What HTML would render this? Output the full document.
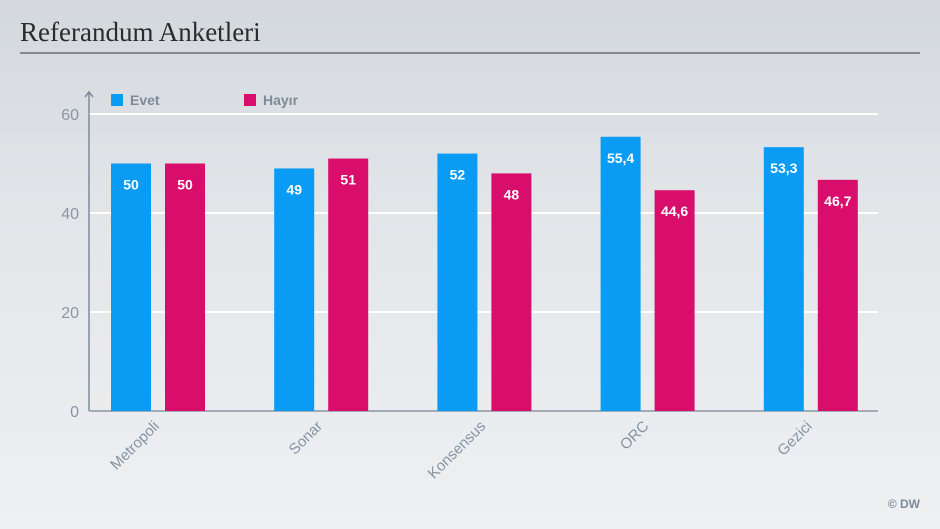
<!DOCTYPE html>
<html><head><meta charset="utf-8"><style>
html,body{margin:0;padding:0;width:940px;height:529px;overflow:hidden}
body{background:linear-gradient(180deg,#d3d8dd 0%,#e4e7ea 45%,#eef0f2 100%);font-family:"Liberation Sans",sans-serif}
</style></head><body>
<svg id="chart" width="940" height="529" xmlns="http://www.w3.org/2000/svg">
<text x="20" y="41" font-family="Liberation Serif, serif" font-size="27" fill="#2b2b2b">Referandum Anketleri</text>
<line x1="20" y1="53" x2="920" y2="53" stroke="#333" stroke-width="1"/>
<g id="grid"></g>
<g id="bars"></g>
<g id="legend">
<rect x="111" y="94" width="12" height="12" fill="#0a9bf5"/>
<text x="130" y="105" font-size="14" font-weight="bold" fill="#7d8b99">Evet</text>
<rect x="244" y="94" width="12" height="12" fill="#d90d6b"/>
<text x="263" y="105" font-size="14" font-weight="bold" fill="#7d8b99">Hayır</text>
</g>
<text x="920" y="508" text-anchor="end" font-size="12" font-weight="bold" fill="#7d8b99">© DW</text>
</svg>
<script>
const categories=["Metropoli","Sonar","Konsensus","ORC","Gezici"];
const evet=[50,49,52,55.4,53.3];
const hayir=[50,51,48,44.6,46.7];
const evetLabels=["50","49","52","55,4","53,3"];
const hayirLabels=["50","51","48","44,6","46,7"];
const ticks=[0,20,40,60];
const NS="http://www.w3.org/2000/svg";
const x0=89,x1=878,yBase=411,yTop=114,yMax=60;
const y=v=>yBase-(v/yMax)*(yBase-yTop);
const groupW=163.2,firstC=158;
const cx=i=>firstC+i*groupW;
function mk(t,a,p){const e=document.createElementNS(NS,t);for(const k in a)e.setAttribute(k,a[k]);p.appendChild(e);return e;}
const grid=document.getElementById('grid'),bars=document.getElementById('bars');
ticks.forEach(t=>{
  if(t>0){const l=mk('line',{x1:x0,x2:x1,y1:y(t),y2:y(t),stroke:'#ffffff','stroke-width':2},grid);
  
  }
  const tx=mk('text',{x:x0-10,y:y(t)+6,'text-anchor':'end','font-size':16,fill:'#8a96a3'},grid);
  tx.textContent=t;
  
  
});
const ax=mk('path',{d:`M${x0} ${yBase}V${yTop-22}M${x0-4} ${yTop-17}L${x0} ${yTop-22}L${x0+4} ${yTop-17}`,stroke:'#7d8b99','stroke-width':1.5,fill:'none'},grid);


const bx=mk('line',{x1:x0,x2:x1,y1:yBase,y2:yBase,stroke:'#8a96a3','stroke-width':1.5},grid);


const bw=40;
categories.forEach((c,i)=>{
  [[evet,evetLabels,'#0a9bf5',-47,'evet'],[hayir,hayirLabels,'#d90d6b',7,'hayir']].forEach(([arr,lab,col,off,nm])=>{
    const bx0=cx(i)+off;
    const r=mk('rect',{x:bx0,y:y(arr[i]),width:bw,height:yBase-y(arr[i]),fill:col},bars);
    
    
    const t=mk('text',{x:bx0+bw/2,y:y(arr[i])+26,'text-anchor':'middle','font-size':14,'font-weight':'bold',fill:'#fff'},bars);
    t.textContent=lab[i];
    
    
  });
  const lx=cx(i)+2,ly=yBase+16;
  const t=mk('text',{x:lx,y:ly,'text-anchor':'end','font-size':15,fill:'#8594a3',transform:`rotate(-45 ${lx} ${ly})`},bars);
  t.textContent=c;
  
  
});
</script>
</body></html>
